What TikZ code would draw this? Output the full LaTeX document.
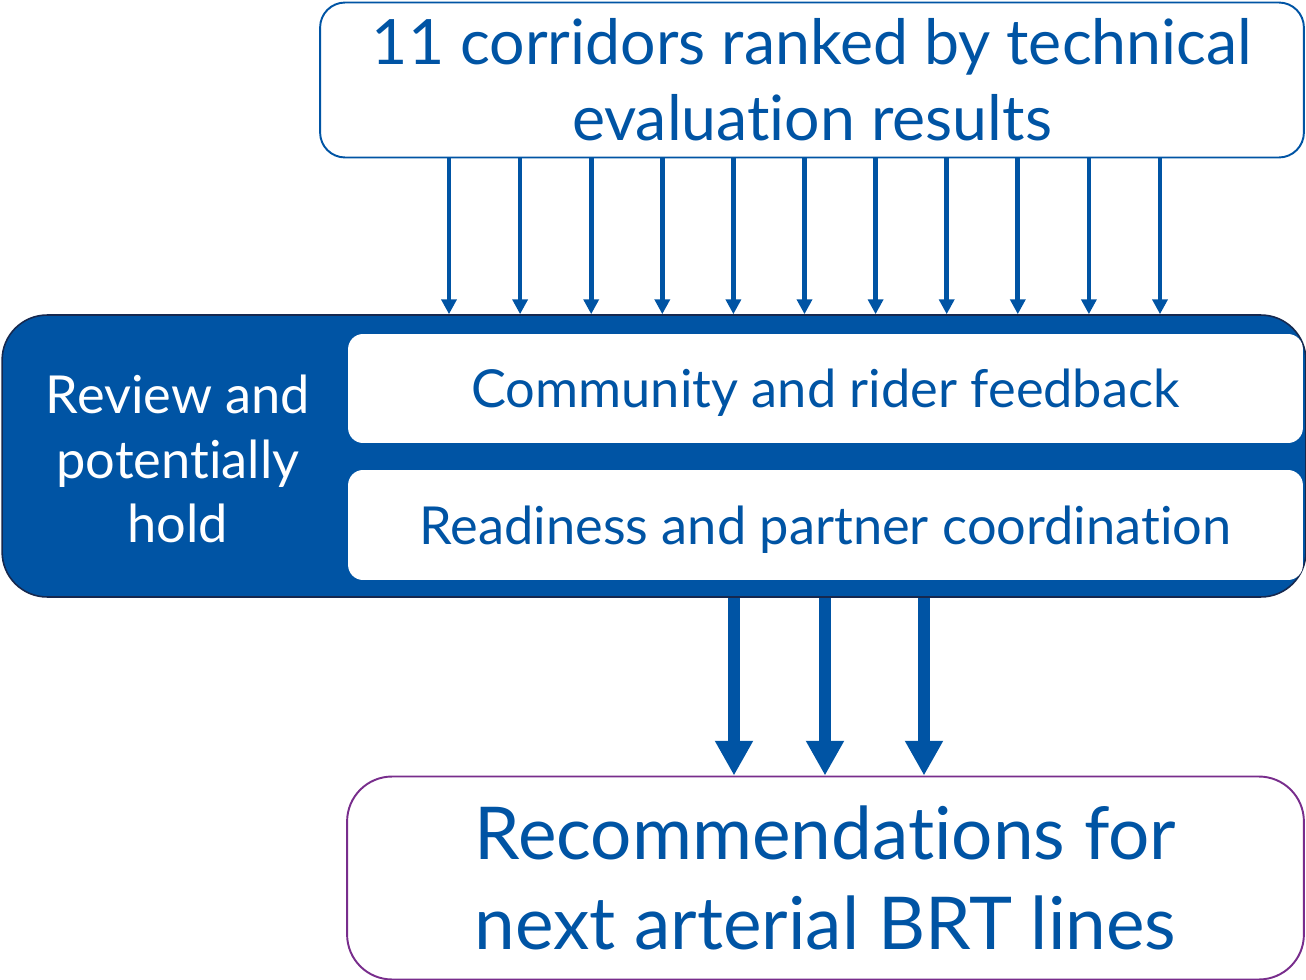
\documentclass[tikz,border=0pt]{standalone}
\usepackage{fontspec}
\setmainfont{Lato}[Ligatures={NoCommon,NoRare,NoContextual}]
\usetikzlibrary{arrows.meta}
\definecolor{brtblue}{RGB}{0,84,164}
\definecolor{navyline}{RGB}{22,40,78}
\definecolor{recpurple}{RGB}{120,45,140}
\begin{document}
\begin{tikzpicture}[x=0.02cm, y=-0.02cm]
			\tikzstyle{Box} = [rectangle, inner sep=0pt, align=center]
			\tikzstyle{Thin} = [brtblue, line width=2.7pt, -{Triangle[width=8.5pt, length=8.5pt]}]
			\tikzstyle{Thick} = [brtblue, line width=6.8pt, -{Triangle[width=20.4pt, length=19.8pt]}]
			\useasboundingbox (0,0) rectangle (1306,980);
			\node (top) at (812,80) [Box, draw=brtblue, line width=1.1pt, rounded corners=0.5cm, fill=white, minimum width=19.68cm, minimum height=3.1cm, text=brtblue, font=\fontsize{35.6}{43.5}\selectfont] {11 corridors ranked by technical\\evaluation results};
			\node (review) at (654,456) [Box, draw=navyline, fill=brtblue, line width=0.9pt, rounded corners=0.9cm, minimum width=26.08cm, minimum height=5.64cm] {};
			\node (hold) at (178,459) [Box, text=white, font=\fontsize{29.8}{36.5}\selectfont] {Review and\\potentially\\hold};
			\node (feedback) at (825.5,388.5) [Box, fill=white, rounded corners=0.3cm, minimum width=19.1cm, minimum height=2.18cm, text depth=0pt, text=brtblue, font=\fontsize{29.8}{36}\selectfont] {Community and rider feedback};
			\node (ready) at (825.5,525) [Box, fill=white, rounded corners=0.3cm, minimum width=19.1cm, minimum height=2.2cm, text depth=0pt, text=brtblue, font=\fontsize{29.8}{36}\selectfont] {Readiness and partner coordination};
			\node (rec) at (825.5,878) [Box, draw=recpurple, line width=1.1pt, rounded corners=0.9cm, fill=white, minimum width=19.14cm, minimum height=4.06cm, text=brtblue, font=\fontsize{41.5}{51}\selectfont] {Recommendations for\\next arterial BRT lines};
			\foreach \i in {0,...,10} {
				\coordinate (c\i) at ({449+71.1*\i},0);
				\draw [Thin] (top.south -| c\i) -- (review.north -| c\i);
			}
			\foreach \x [count=\j] in {734,825,924} {
				\coordinate (d\j) at (\x,0);
				\draw [Thick] (review.south -| d\j) -- (rec.north -| d\j);
			}
		\end{tikzpicture}
\end{document}
